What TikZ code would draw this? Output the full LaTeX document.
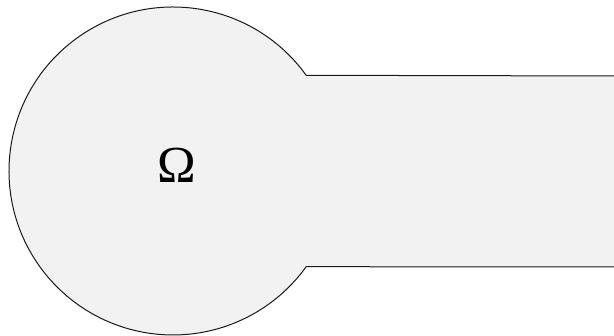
\documentclass[tikz,border=0pt]{standalone}
\usepackage{fontspec}
\newfontfamily\labfont{Liberation Serif}
\usetikzlibrary{calc}
\definecolor{domain}{RGB}{242,242,242}
\definecolor{wall}{RGB}{25,25,25}
\tikzset{
  region/.style={fill=domain, draw=wall, line width=1pt, line join=miter},
  lab/.style={font=\labfont\fontsize{52}{52}\selectfont, inner sep=0pt},
}
\begin{document}
\begin{tikzpicture}[x=1pt,y=1pt]
  \useasboundingbox (0,0) rectangle (614,336);

  %% bulb and channel, open to the right
  \coordinate (c) at (173,165);
  \draw[region] (620,260) -- ($(c)+(35.7:164)$)
    arc[start angle=35.7, end angle=324.3, radius=164] -- (620,69) -- cycle;

  %% domain label
  \node[lab] (omega) at (177,171) {Ω};
\end{tikzpicture}
\end{document}
